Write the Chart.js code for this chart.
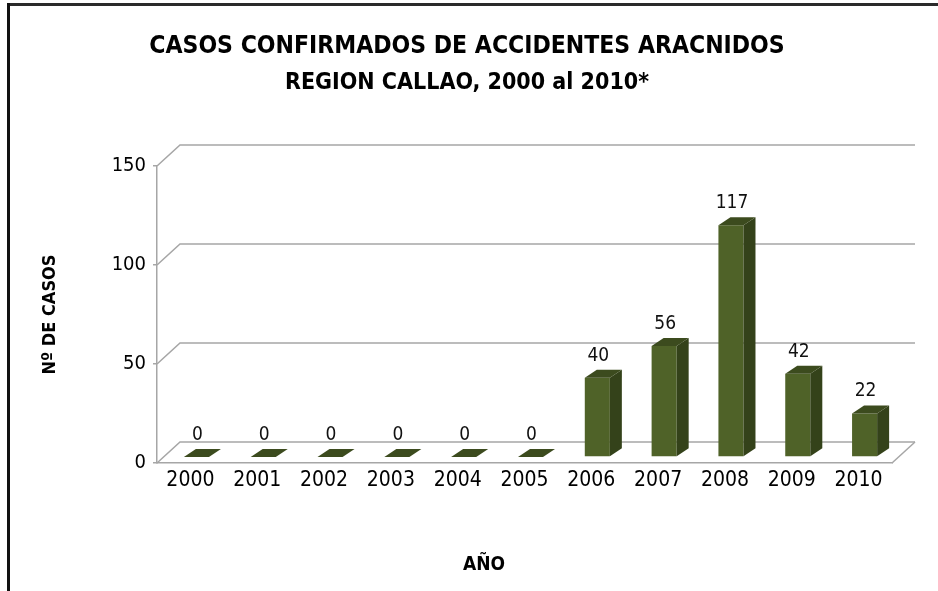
<!DOCTYPE html>
<html><head><meta charset="utf-8">
<script src="https://cdn.jsdelivr.net/npm/chart.js@4.4.1/dist/chart.umd.min.js"></script>
<style>html,body{margin:0;padding:0;background:#fff;overflow:hidden}#wrap{position:absolute;left:0;top:0;width:938px;height:591px}</style>
</head><body><div id="wrap"><canvas id="c" width="938" height="591"></canvas></div>
<script>
const years = ['2000','2001','2002','2003','2004','2005','2006','2007','2008','2009','2010'];
const casos = [0,0,0,0,0,0,40,56,117,42,22];
const yTicks = [0,50,100,150];
const titleLine1 = 'CASOS CONFIRMADOS DE ACCIDENTES ARACNIDOS';
const titleLine2 = 'REGION CALLAO, 2000 al 2010*';
const xTitle = 'AÑO';
const yTitle = 'Nº DE CASOS';

const FONT = "'DejaVu Sans Condensed', 'DejaVu Sans', sans-serif";
const WALL = {dx: 23, dy: -21};
const BAR = {sx: 6, sy: -6, dx: 12, dy: -8};
const COL = {front: '#4f6228', side: '#34421a', top: '#3c4b1e', grid: '#a6a6a6'};

const frame = {
  id: 'frame',
  beforeDraw(chart) {
    const ctx = chart.ctx;
    ctx.save();
    ctx.fillStyle = '#fff';
    ctx.fillRect(0, 0, chart.width, chart.height);
    ctx.fillStyle = '#2a2a2a';
    ctx.fillRect(8, 3, chart.width - 8, 3);
    ctx.fillStyle = '#111';
    ctx.fillRect(7, 3, 3, chart.height - 3);
    ctx.restore();
  }
};

const box3d = {
  id: 'box3d',
  beforeDatasetsDraw(chart) {
    const {ctx, chartArea: a, scales: {y}} = chart;
    ctx.save();
    ctx.strokeStyle = COL.grid;
    ctx.lineWidth = 1.5;
    yTicks.forEach(v => {
      const py = y.getPixelForValue(v);
      ctx.beginPath();
      ctx.moveTo(a.left, py);
      ctx.lineTo(a.left + WALL.dx, py + WALL.dy);
      ctx.lineTo(a.right + WALL.dx, py + WALL.dy);
      ctx.stroke();
    });
    const y0 = y.getPixelForValue(0);
    ctx.beginPath();
    ctx.moveTo(a.right, y0);
    ctx.lineTo(a.right + WALL.dx, y0 + WALL.dy);
    ctx.stroke();
    ctx.restore();
    ctx.save();
    ctx.translate(BAR.sx, BAR.sy);
  },
  afterDatasetsDraw(chart) {
    const ctx = chart.ctx;
    const meta = chart.getDatasetMeta(0);
    meta.data.forEach(el => {
      const p = el.getProps(['x', 'y', 'base', 'width'], true);
      const l = p.x - p.width / 2, r = p.x + p.width / 2;
      ctx.fillStyle = COL.side;
      ctx.beginPath();
      ctx.moveTo(r, p.base);
      ctx.lineTo(r + BAR.dx, p.base + BAR.dy);
      ctx.lineTo(r + BAR.dx, p.y + BAR.dy);
      ctx.lineTo(r, p.y);
      ctx.closePath();
      ctx.fill();
      ctx.fillStyle = COL.top;
      ctx.beginPath();
      ctx.moveTo(l, p.y);
      ctx.lineTo(r, p.y);
      ctx.lineTo(r + BAR.dx, p.y + BAR.dy);
      ctx.lineTo(l + BAR.dx, p.y + BAR.dy);
      ctx.closePath();
      ctx.fill();
    });
    ctx.restore();
    ctx.save();
    ctx.fillStyle = '#111';
    ctx.font = "19px " + FONT;
    ctx.textAlign = 'center';
    ctx.textBaseline = 'middle';
    meta.data.forEach((el, i) => {
      const p = el.getProps(['x', 'y'], true);
      ctx.fillText(String(casos[i]), p.x + BAR.sx + 1, p.y + BAR.sy - 22);
    });
    // x axis title (placed off-centre, as in the original)
    const a = chart.chartArea;
    ctx.fillStyle = '#000';
    ctx.font = "bold 19px " + FONT;
    ctx.fillText(xTitle, a.left + (a.right - a.left) * 0.445, chart.height - 26);
    ctx.restore();
  }
};

Chart.defaults.font.family = FONT;
Chart.defaults.color = '#000';

new Chart(document.getElementById('c'), {
  type: 'bar',
  data: {
    labels: years,
    datasets: [{
      data: casos,
      backgroundColor: COL.front,
      borderWidth: 0,
      categoryPercentage: 1,
      barPercentage: 0.375
    }]
  },
  plugins: [frame, box3d],
  options: {
    responsive: false,
    animation: false,
    devicePixelRatio: 1,
    layout: {padding: {left: 42, top: 0, right: 46, bottom: 0}},
    plugins: {
      legend: {display: false},
      tooltip: {enabled: false},
      title: {
        display: true,
        text: titleLine1,
        color: '#000',
        font: {family: FONT, size: 24.5, weight: 'bold', lineHeight: 36 / 24.5},
        padding: {top: 29, bottom: 0}
      },
      subtitle: {
        display: true,
        text: titleLine2,
        color: '#000',
        font: {family: FONT, size: 23, weight: 'bold', lineHeight: 36 / 23},
        padding: {top: 0, bottom: 65}
      }
    },
    scales: {
      x: {
        afterFit(s) { s.height = 128; },
        grid: {display: true, drawOnChartArea: false, drawTicks: false},
        border: {display: true, color: COL.grid, width: 1.5},
        ticks: {font: {size: 21}, padding: 5, color: '#000'},
        title: {display: false}
      },
      y: {
        min: 0, max: 150,
        afterFit(s) { s.width = 115; },
        afterBuildTicks(s) { s.ticks = yTicks.map(v => ({value: v})); },
        grid: {display: true, drawOnChartArea: false, drawTicks: true, tickLength: 4, color: COL.grid, lineWidth: 1.5},
        border: {display: true, color: COL.grid, width: 1.5},
        ticks: {font: {size: 20}, padding: 7, color: '#000'},
        title: {display: true, text: yTitle, font: {size: 18, weight: 'bold'}, padding: {top: -2, bottom: 0}, color: '#000'}
      }
    }
  }
});
</script>
</body></html>
